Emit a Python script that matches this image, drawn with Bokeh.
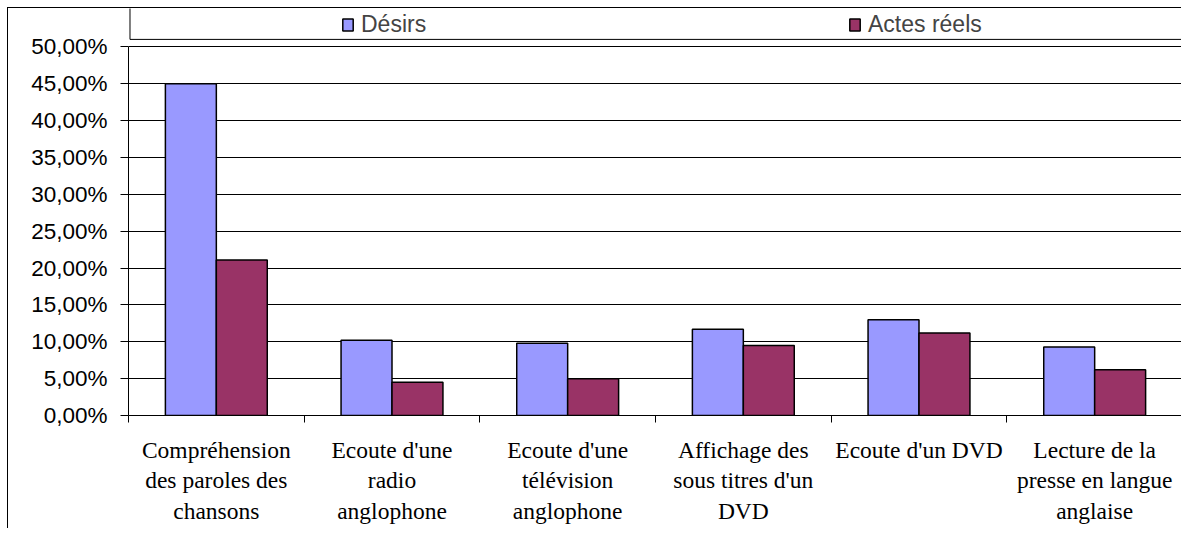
from bokeh.plotting import figure
from bokeh.layouts import column
from bokeh.models import ColumnDataSource, FixedTicker, Legend, LegendItem, Range1d
from bokeh.transform import dodge
from bokeh.embed import file_html
from bokeh.resources import INLINE

categories = [
    "Compréhension\ndes paroles des\nchansons",
    "Ecoute d'une\nradio\nanglophone",
    "Ecoute d'une\ntélévision\nanglophone",
    "Affichage des\nsous titres d'un\nDVD",
    "Ecoute d'un DVD",
    "Lecture de la\npresse en langue\nanglaise",
]
desirs = [45.0, 10.2, 9.8, 11.7, 13.0, 9.3]
actes_reels = [21.1, 4.5, 5.0, 9.5, 11.2, 6.2]
series_names = ["Désirs", "Actes réels"]
y_ticks = [0, 5, 10, 15, 20, 25, 30, 35, 40, 45, 50]
y_tick_labels = ["0,00%", "5,00%", "10,00%", "15,00%", "20,00%", "25,00%",
                 "30,00%", "35,00%", "40,00%", "45,00%", "50,00%"]

W, H = 1174, 521

xpos = [i + 0.5 for i in range(len(categories))]
src = ColumnDataSource(dict(x=xpos, desirs=desirs, actes=actes_reels))

p = figure(width=W, height=H, x_range=Range1d(0, 6), y_range=Range1d(0, 55.19),
           output_backend="svg", toolbar_location=None,
           min_border_left=120, min_border_right=0, min_border_top=0, min_border_bottom=114)
p.styles = {"border-left": "1px solid black", "border-top": "1px solid black"}
p.outline_line_color = None
p.background_fill_color = "white"
p.border_fill_color = "white"

r1 = p.vbar(x=dodge("x", -0.145), top="desirs", width=0.29, source=src,
            fill_color="#9999FF", line_color="black", line_width=1.5)
r2 = p.vbar(x=dodge("x", 0.145), top="actes", width=0.29, source=src,
            fill_color="#993366", line_color="black", line_width=1.5)

# legend frame
p.quad(left=[0.0085], right=[6.5], bottom=[51.0], top=[60.0],
       fill_color=None, line_color="black", line_width=1)

# x axis
p.xaxis.ticker = FixedTicker(ticks=xpos, minor_ticks=list(range(7)))
p.xaxis.major_label_overrides = {xpos[i]: categories[i] for i in range(len(categories))}
p.xaxis.major_tick_out = 0
p.xaxis.major_tick_in = 0
p.xaxis.minor_tick_out = 7
p.xaxis.minor_tick_in = 0
p.xaxis.minor_tick_line_color = "black"
p.xaxis.axis_line_color = "black"
p.xaxis.major_label_text_font = "Liberation Serif"
p.xaxis.major_label_text_font_size = "23.5px"
p.xaxis.major_label_text_color = "black"
p.xaxis.major_label_text_line_height = 1.18
p.xaxis.major_label_standoff = 14
p.xaxis.major_label_orientation = "horizontal"

# y axis
yt = FixedTicker(ticks=y_ticks, minor_ticks=[])
p.yaxis.ticker = yt
p.yaxis.bounds = (0, 50)
p.yaxis.major_label_overrides = {y_ticks[i]: y_tick_labels[i] for i in range(len(y_ticks))}
p.yaxis.major_tick_out = 8
p.yaxis.major_tick_in = 0
p.yaxis.minor_tick_line_color = None
p.yaxis.axis_line_color = "black"
p.yaxis.major_tick_line_color = "black"
p.yaxis.major_label_text_font = "Liberation Sans"
p.yaxis.major_label_text_font_size = "22.5px"
p.yaxis.major_label_text_color = "black"
p.yaxis.major_label_standoff = 13

p.xgrid.visible = False
p.ygrid.ticker = yt
p.ygrid.grid_line_color = "black"
p.ygrid.grid_line_width = 1

legend = Legend(items=[LegendItem(label=series_names[0], renderers=[r1]),
                       LegendItem(label=series_names[1], renderers=[r2])],
                orientation="horizontal", location=(213, 377),
                padding=0, margin=0, spacing=0,
                glyph_width=13, glyph_height=15, label_standoff=7, label_width=487,
                label_text_font="Liberation Sans", label_text_font_size="23px",
                border_line_color=None, background_fill_alpha=0)
p.add_layout(legend)

root = column(p, styles={"padding-left": "7px", "padding-top": "7px"})

open("out.html", "w").write(file_html(root, INLINE))
